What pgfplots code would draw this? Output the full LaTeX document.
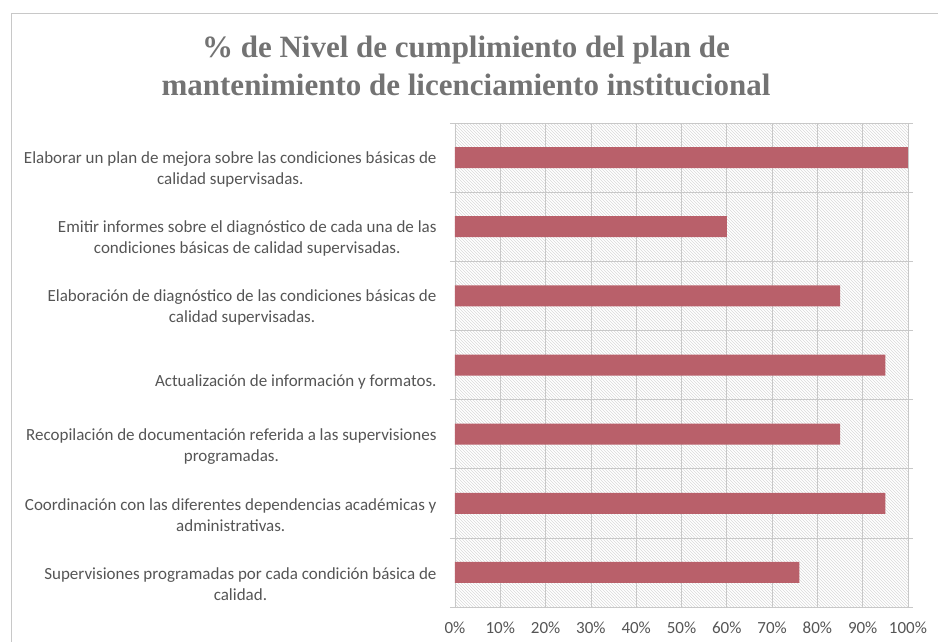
\documentclass[border=0pt]{standalone}
\usepackage{pgfplots}
\pgfplotsset{compat=1.18}
\usetikzlibrary{patterns}
\usepackage{fontspec}
\setmainfont{Carlito}
\newfontfamily\titlefont{Liberation Serif}
\definecolor{barred}{RGB}{185,96,106}
\definecolor{labgray}{RGB}{85,85,85}
\definecolor{titgray}{RGB}{115,115,115}
\definecolor{gridgray}{RGB}{200,200,200}
\begin{document}
\begin{tikzpicture}
\useasboundingbox (-455pt,-34pt) rectangle (483pt,607pt);
\draw[gridgray, line width=0.8pt] (-444pt,-40pt) -- (-444pt,594pt) -- (490pt,594pt);
\begin{axis}[
  at={(0,0)}, anchor=south west,
  scale only axis,
  width=453pt, height=484pt,
  xbar, bar width=21pt,
  xmin=0, xmax=100,
  ymin=-0.5, ymax=6.5,
  xtick={0,10,...,100},
  xticklabels={0\%,10\%,20\%,30\%,40\%,50\%,60\%,70\%,80\%,90\%,100\%},
  ytick={0,1,2,3,4,5,6},
  yticklabels={
    {Supervisiones programadas por cada condición básica de\\calidad.},
    {Coordinación con las diferentes dependencias académicas y\\administrativas.},
    {Recopilación de documentación referida a las supervisiones\\programadas.},
    {\mbox{}\\Actualización de información y formatos.},
    {Elaboración de diagnóstico de las condiciones básicas de\\calidad supervisadas.},
    {Emitir informes sobre el diagnóstico de cada una de las\\condiciones básicas de calidad supervisadas.},
    {Elaborar un plan de mejora sobre las condiciones básicas de\\calidad supervisadas.}
  },
  minor ytick={-0.5,0.5,...,6.5},
  ymajorgrids=false, yminorgrids=true, xmajorgrids=true,
  grid style={gridgray, line width=0.6pt},
  minor grid style={gridgray, line width=0.6pt},
  major y tick style={draw=none},
  minor y tick style={gridgray, line width=0.6pt},
  minor tick length=5pt,
  x tick style={draw=none},
  axis line style={gridgray, line width=0.8pt},
  axis background/.style={pattern=north west lines, pattern color=black!15},
  yticklabel style={font=\fontsize{17}{21}\selectfont, text=labgray, align=center, anchor=east, inner sep=0pt, xshift=-14pt, yshift=-12pt},
  xticklabel style={font=\fontsize{17}{19}\selectfont, text=labgray, inner sep=0pt, yshift=-10pt},
  tick align=outside,
  clip=false,
]
\addplot[fill=barred, draw=none] coordinates {
  (76,0) (95,1) (85,2) (95,3) (85,4) (60,5) (100,6)
};
\end{axis}
\node[font=\titlefont\bfseries\fontsize{31}{38}\selectfont, text=titgray, align=center] at (11pt,541pt)
  {\% de Nivel de cumplimiento del plan de\\mantenimiento de licenciamiento institucional};
\end{tikzpicture}
\end{document}
